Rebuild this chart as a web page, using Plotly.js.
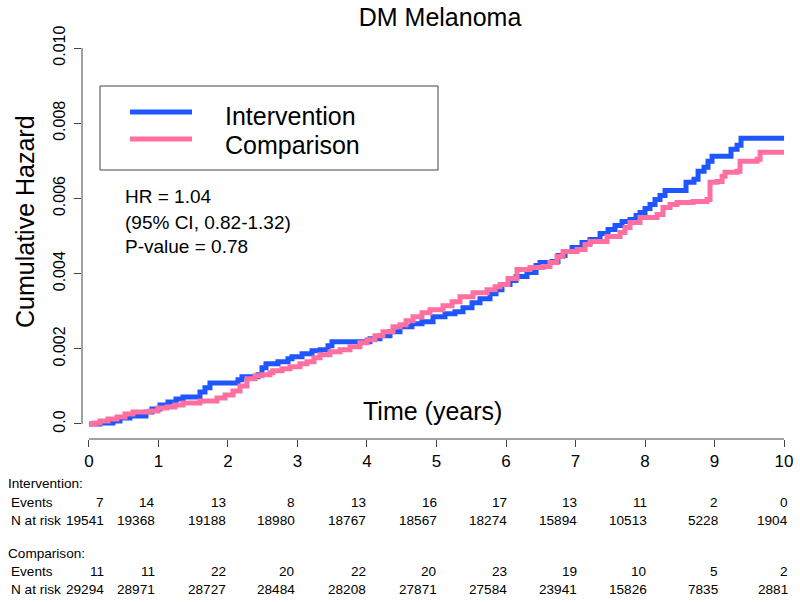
<!DOCTYPE html>
<html>
<head>
<meta charset="utf-8">
<script src="https://cdn.plot.ly/plotly-3.0.1.min.js"></script>
<style>
  html, body { margin: 0; padding: 0; background: #fff; }
  #chart { width: 800px; height: 602px; }
</style>
</head>
<body>
<div id="chart"></div>
<script>
// step points (time in years)
var intervTime = [0, 0.158, 0.345, 0.446, 0.590, 0.820, 0.906, 1.022, 1.137, 1.252, 1.353, 1.597, 1.669, 1.741,
  2.144, 2.201, 2.432, 2.489, 2.547, 2.719, 2.863, 2.921, 3.065, 3.209, 3.324, 3.439, 3.496,
  4.043, 4.187, 4.331, 4.475, 4.647, 4.791, 4.950, 5.122, 5.266, 5.381, 5.511, 5.626, 5.770, 5.856, 5.942,
  6.058, 6.144, 6.302, 6.432, 6.489, 6.662, 6.748, 6.849, 6.950, 7.094, 7.209, 7.353, 7.468, 7.568, 7.669,
  7.784, 7.871, 7.928, 8.000, 8.072, 8.144, 8.216, 8.288, 8.590, 8.705, 8.763, 8.849, 8.906, 8.964,
  9.237, 9.324, 9.381, 10];
var intervHaz = [0, 0.000027, 0.00008, 0.00016, 0.000213, 0.00032, 0.0004, 0.000507, 0.000587, 0.000667, 0.00072, 0.000853, 0.00096, 0.00109,
  0.001173, 0.001253, 0.001307, 0.001493, 0.0016, 0.001653, 0.001733, 0.001787, 0.001867, 0.001947, 0.001973, 0.00208, 0.002187,
  0.002267, 0.002347, 0.002453, 0.002587, 0.002667, 0.00272, 0.002853, 0.002933, 0.002987, 0.003093, 0.003227, 0.003333, 0.003467, 0.003573, 0.003707,
  0.003813, 0.00392, 0.004027, 0.004213, 0.004293, 0.00432, 0.00448, 0.004587, 0.004693, 0.004827, 0.004907, 0.005067, 0.005173, 0.00528, 0.005387,
  0.00544, 0.005547, 0.005627, 0.005733, 0.00584, 0.005973, 0.00608, 0.006213, 0.006427, 0.006507, 0.00672, 0.006827, 0.006987, 0.00712,
  0.007307, 0.007413, 0.0076, 0.0076];

var compTime = [0, 0.086, 0.158, 0.273, 0.403, 0.518, 0.633, 0.878, 0.993, 1.122, 1.237, 1.353, 1.597, 1.842, 1.957,
  2.072, 2.173, 2.273, 2.388, 2.489, 2.604, 2.647, 2.777, 2.892, 3.036, 3.137, 3.237, 3.324, 3.468, 3.612, 3.755, 3.899,
  4.0, 4.115, 4.230, 4.374, 4.475, 4.561, 4.662, 4.791, 4.906, 5.094, 5.223, 5.338, 5.525, 5.727, 5.842, 5.914,
  6.029, 6.158, 6.345, 6.532, 6.633, 6.734, 6.820, 7.022, 7.137, 7.209, 7.453, 7.640, 7.712, 7.784, 7.928,
  8.173, 8.259, 8.360, 8.460, 8.691, 8.892, 8.935, 9.036, 9.108, 9.151, 9.324, 9.367, 9.612, 9.655, 10];
var compHaz = [0, 0.000027, 0.00008, 0.000133, 0.000187, 0.000267, 0.00032, 0.000347, 0.000427, 0.000453, 0.000507, 0.00056, 0.000613, 0.000693, 0.000773,
  0.00088, 0.001013, 0.0012, 0.00128, 0.001307, 0.00136, 0.001413, 0.001467, 0.00152, 0.0016, 0.001653, 0.00176, 0.00184, 0.00192, 0.001973, 0.002053, 0.00216,
  0.00224, 0.002347, 0.002453, 0.002587, 0.00264, 0.002747, 0.002853, 0.00296, 0.00304, 0.003147, 0.003253, 0.003387, 0.003493, 0.003573, 0.003653, 0.003707,
  0.003867, 0.004107, 0.00416, 0.004187, 0.004293, 0.004453, 0.004587, 0.00464, 0.004773, 0.004853, 0.004987, 0.005093, 0.005227, 0.00536, 0.005493,
  0.005573, 0.00576, 0.00584, 0.005893, 0.00592, 0.005973, 0.006427, 0.006453, 0.006587, 0.006693, 0.00672, 0.006987, 0.00704, 0.007227, 0.007227];

// risk table
var yearTicks = [0, 1, 2, 3, 4, 5, 6, 7, 8, 9, 10];
var intervEvents = [7, 14, 13, 8, 13, 16, 17, 13, 11, 2, 0];
var intervRisk = [19541, 19368, 19188, 18980, 18767, 18567, 18274, 15894, 10513, 5228, 1904];
var compEvents = [11, 11, 22, 20, 22, 20, 23, 19, 10, 5, 2];
var compRisk = [29294, 28971, 28727, 28484, 28208, 27871, 27584, 23941, 15826, 7835, 2881];

var hazTicks = [0, 0.002, 0.004, 0.006, 0.008, 0.010];
var hazTickText = ['0.0', '0.002', '0.004', '0.006', '0.008', '0.010'];

var blue = '#1f56ff';
var pink = '#ff6fa0';
var font = '"Liberation Sans", Arial, sans-serif';

// plot area in pixels: left 82, right 791, top 33, bottom 439
function pxX(x) { return (x - 82) / 709; }
function pxY(y) { return (439 - y) / 406; }

var traces = [
  { x: intervTime, y: intervHaz, name: 'Intervention', type: 'scatter', mode: 'lines',
    line: { shape: 'hv', color: blue, width: 5 } },
  { x: compTime, y: compHaz, name: 'Comparison', type: 'scatter', mode: 'lines',
    line: { shape: 'hv', color: pink, width: 5 } }
];

var annotations = [];
function addText(text, x, y, opts) {
  var a = { text: text, x: x, y: y, xref: 'paper', yref: 'paper', showarrow: false,
    xanchor: 'left', yanchor: 'middle', font: { family: font, size: 19, color: '#000' } };
  for (var k in opts) a[k] = opts[k];
  annotations.push(a);
}

addText('Cumulative Hazard', pxX(25), pxY(222), { xanchor: 'center', textangle: -90, font: { family: font, size: 25, color: '#000' } });
addText('Time (years)', pxX(432), pxY(411), { xanchor: 'center', font: { family: font, size: 25, color: '#000' } });
addText('Intervention', pxX(223), pxY(116), { font: { family: font, size: 25, color: '#000' } });
addText('Comparison', pxX(223), pxY(145), { font: { family: font, size: 25, color: '#000' } });
addText('HR = 1.04', pxX(123), pxY(197));
addText('(95% CI, 0.82-1.32)', pxX(123), pxY(222));
addText('P-value = 0.78', pxX(123), pxY(246));

var small = { family: font, size: 13.6, color: '#000' };
addText('Intervention:', pxX(6), pxY(483), { font: small });
addText('Events', pxX(9), pxY(502), { font: small });
addText('N at risk', pxX(9), pxY(520), { font: small });
addText('Comparison:', pxX(6), pxY(553), { font: small });
addText('Events', pxX(9), pxY(571), { font: small });
addText('N at risk', pxX(9), pxY(589), { font: small });

function addRow(values, rowY) {
  values.forEach(function(v, i) {
    var t = yearTicks[i];
    annotations.push({ text: String(v), x: t, y: pxY(rowY), xref: 'x', yref: 'paper',
      showarrow: false, xanchor: 'right', yanchor: 'middle', font: small,
      xshift: t === 0 ? 17 : Math.round(0.75 * t - 2) });
  });
}
addRow(intervEvents, 502);
addRow(intervRisk, 520);
addRow(compEvents, 571);
addRow(compRisk, 589);

var shapes = [
  // R style axis lines spanning only the tick range
  { type: 'line', xref: 'x', yref: 'paper', x0: 0, x1: 10, y0: 0, y1: 0, line: { color: '#444', width: 1 } },
  { type: 'line', xref: 'paper', yref: 'y', x0: 0, x1: 0, y0: 0, y1: 0.010, line: { color: '#444', width: 1 } },
  // legend box and keys
  { type: 'rect', xref: 'paper', yref: 'paper', x0: pxX(100), x1: pxX(438), y0: pxY(170), y1: pxY(86),
    line: { color: '#444', width: 1 } },
  { type: 'line', xref: 'paper', yref: 'paper', x0: pxX(130), x1: pxX(192), y0: pxY(112), y1: pxY(112),
    line: { color: blue, width: 5 } },
  { type: 'line', xref: 'paper', yref: 'paper', x0: pxX(130), x1: pxX(192), y0: pxY(139), y1: pxY(139),
    line: { color: pink, width: 5 } }
];

var layout = {
  width: 800, height: 602,
  margin: { l: 82, r: 9, t: 33, b: 163 },
  paper_bgcolor: '#fff', plot_bgcolor: '#fff',
  showlegend: false,
  title: { text: 'DM Melanoma', x: 0.505, xref: 'paper', xanchor: 'center', y: 1 - 17 / 602, yanchor: 'middle',
    font: { family: font, size: 25, color: '#000' } },
  xaxis: {
    range: [-0.1, 10.1], showgrid: false, zeroline: false, showline: false,
    tickmode: 'array', tickvals: yearTicks, ticks: 'outside', ticklen: 7, tickcolor: '#444', tickwidth: 1,
    tickfont: { family: font, size: 17, color: '#000' }
  },
  yaxis: {
    range: [-0.0004, 0.0104], showgrid: false, zeroline: false, showline: false,
    tickmode: 'array', tickvals: hazTicks, ticktext: hazTickText, tickangle: -90,
    ticks: 'outside', ticklen: 7, tickcolor: '#444', tickwidth: 1, ticklabelstandoff: 3,
    tickfont: { family: font, size: 16, color: '#000' }
  },
  shapes: shapes,
  annotations: annotations
};

Plotly.newPlot('chart', traces, layout, { staticPlot: true, displayModeBar: false });
</script>
</body>
</html>
